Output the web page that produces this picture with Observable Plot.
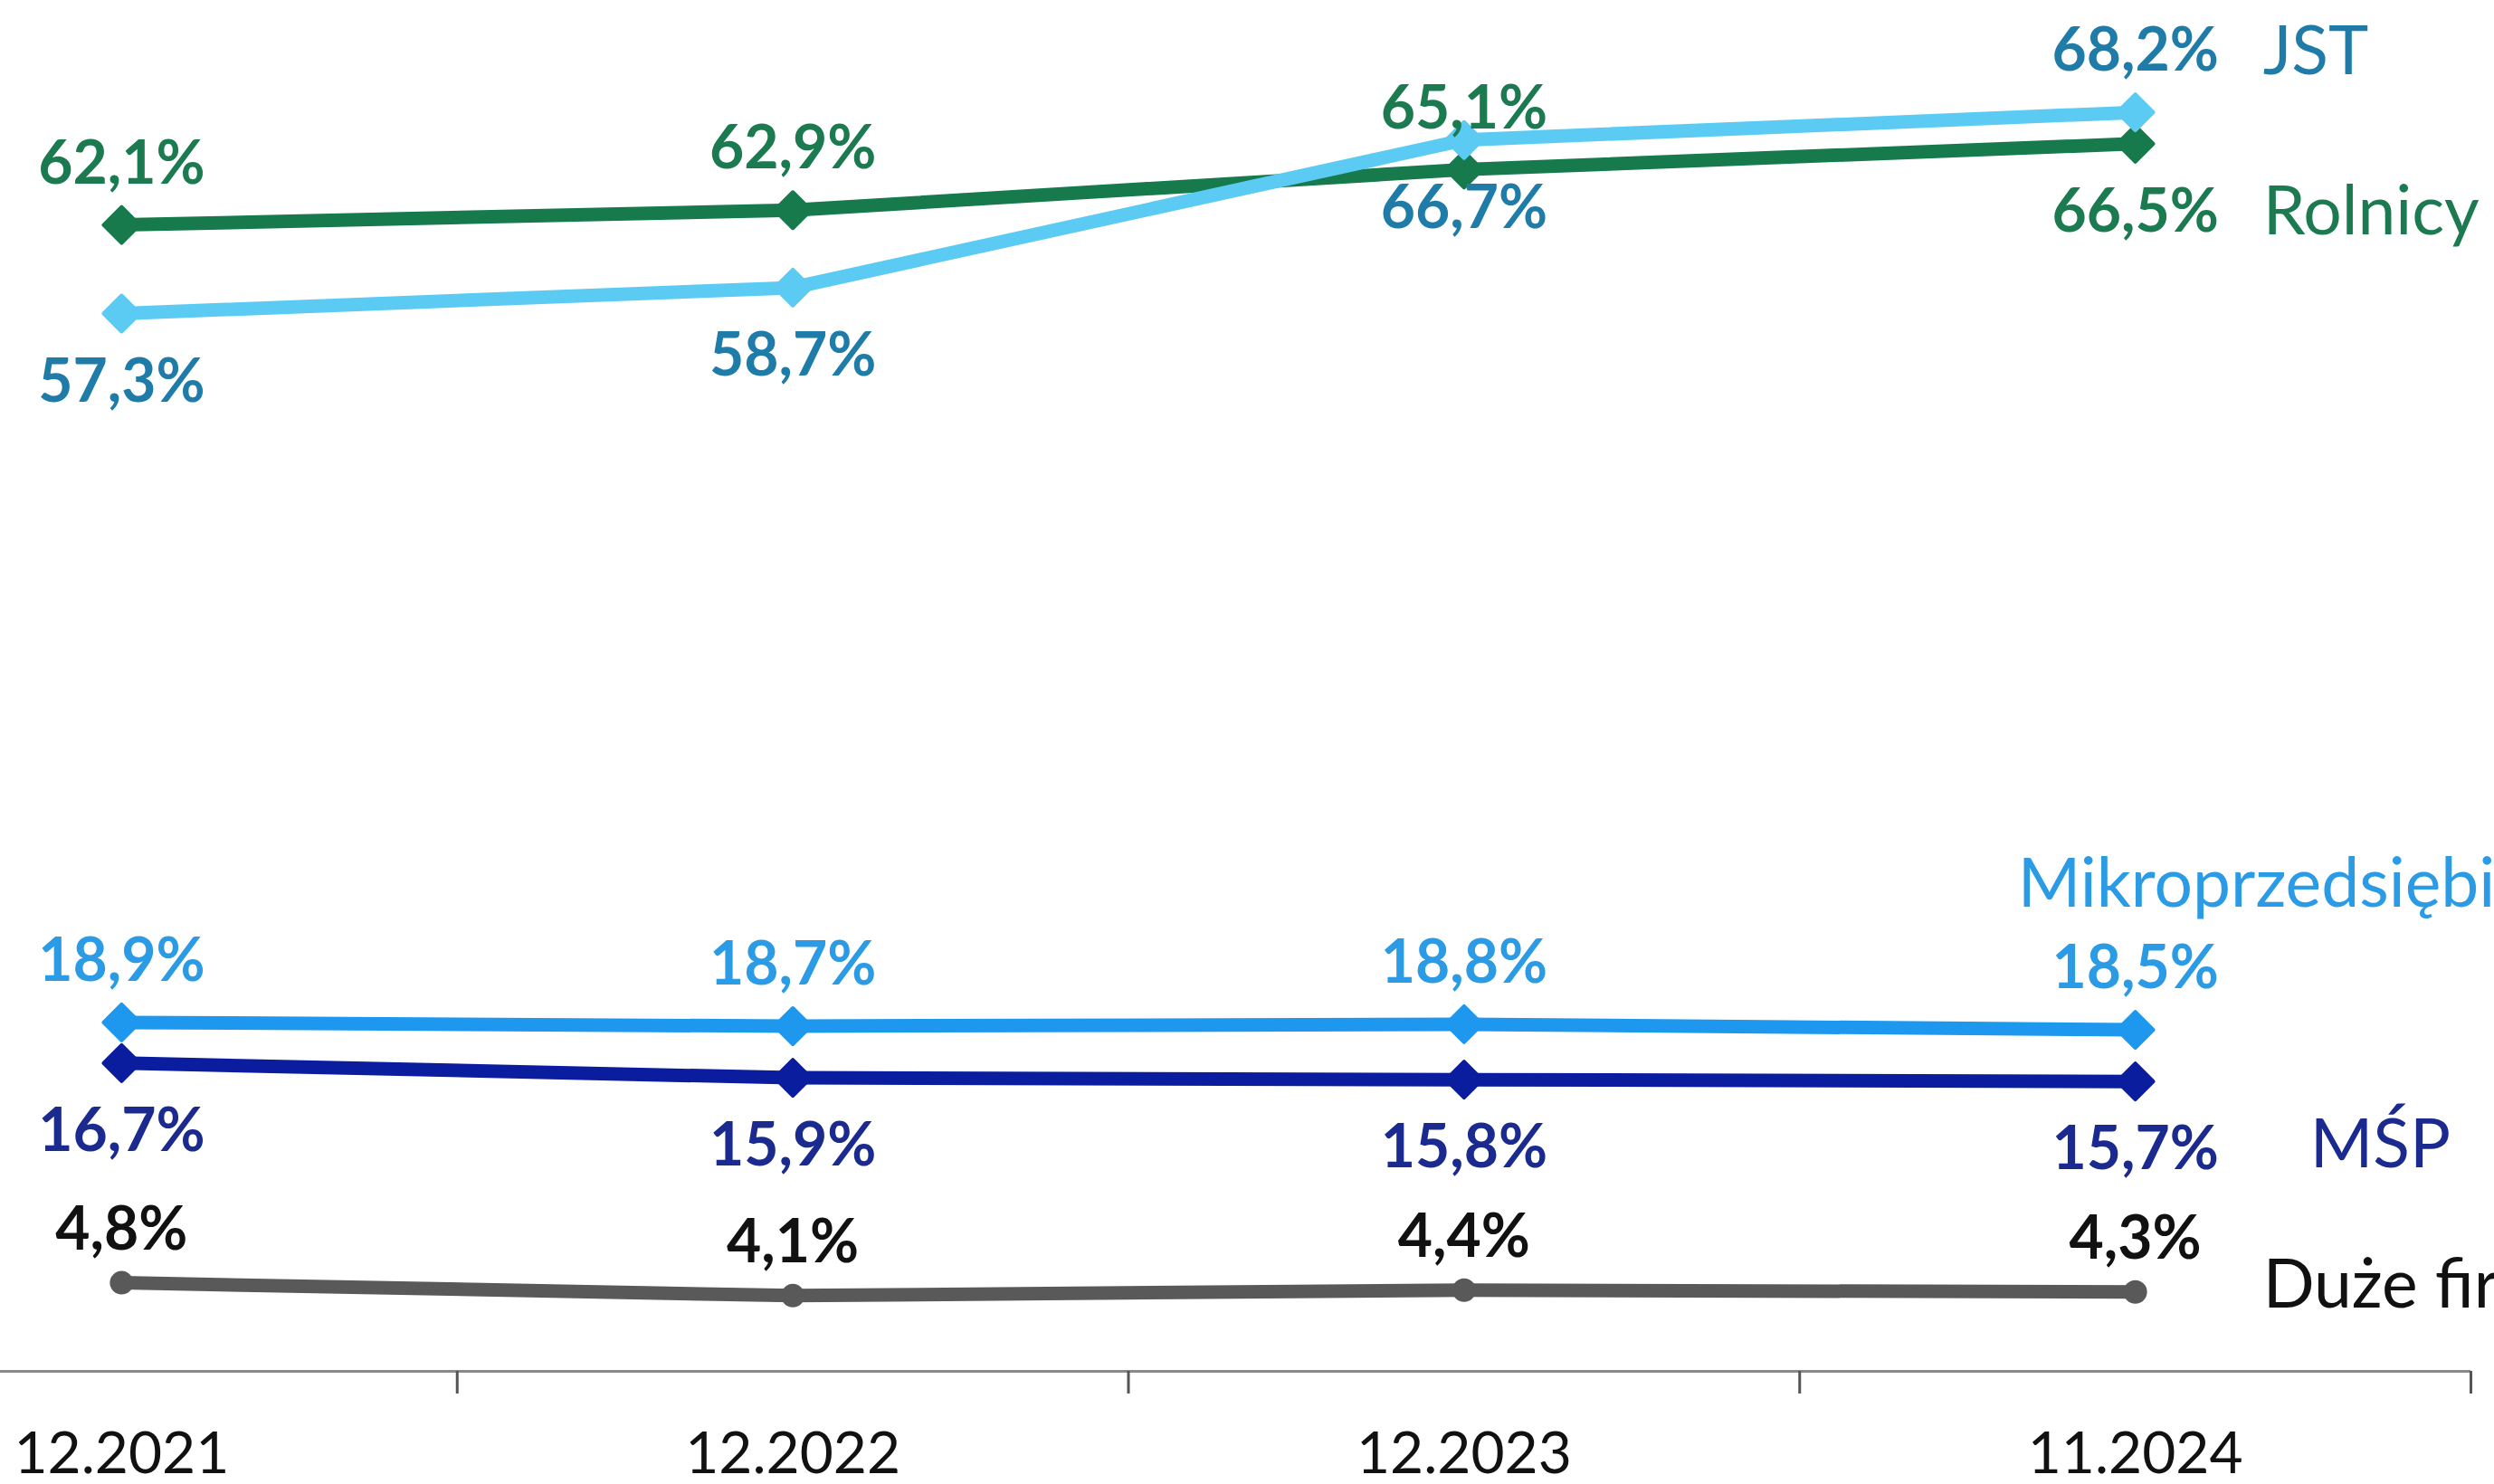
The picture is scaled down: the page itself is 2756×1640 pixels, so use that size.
<!DOCTYPE html>
<html>
<head>
<meta charset="utf-8">
<script src="https://cdn.jsdelivr.net/npm/d3@7"></script>
<script src="https://cdn.jsdelivr.net/npm/@observablehq/plot@0.6"></script>
<style>
  html, body { margin: 0; padding: 0; background: #fff; }
  #chart svg { display: block; }
</style>
</head>
<body>
<div id="chart"></div>
<script>
// ---- data ----
const categories = ["12.2021", "12.2022", "12.2023", "11.2024"];
const rolnicy = [62.1, 62.9, 65.1, 66.5];
const jst     = [57.3, 58.7, 66.7, 68.2];
const mikro   = [18.9, 18.7, 18.8, 18.5];
const msp     = [16.7, 15.9, 15.8, 15.7];
const duze    = [4.8, 4.1, 4.4, 4.3];
const seriesNames = ["Rolnicy", "JST", "Mikroprzedsiębiorstwa", "MŚP", "Duże firmy"];

// ---- styling / layout config ----
const series = [
  {name: seriesNames[0], values: rolnicy, line: "#177a4d", text: "#1b7a50", symbol: "diamond2", r: 18,
   place: ["above", "above", "above", "below"], ldx: 141, ldy: 76},
  {name: seriesNames[1], values: jst, line: "#5ccbf3", text: "#1f7ca8", symbol: "diamond2", r: 18,
   place: ["below", "below", "below", "above"], ldx: 141, ldy: -66},
  {name: seriesNames[2], values: mikro, line: "#1e97ef", text: "#2a9be4", symbol: "diamond2", r: 18,
   place: ["above", "above", "above", "above"], ldx: -130, ldy: -160},
  {name: seriesNames[3], values: msp, line: "#0a1d9e", text: "#1b2a8e", symbol: "diamond2", r: 18,
   place: ["below", "below", "below", "below"], ldx: 193, ldy: 71},
  {name: seriesNames[4], values: duze, line: "#595959", text: "#111111", symbol: "circle", r: 11,
   place: ["above", "above", "above", "above"], ldx: 141, ldy: -7, aboveDy: -58}
];

const fmt = v => v.toFixed(1).replace(".", ",") + "%";

const lineMarks = [];
const labelMarks = [];
for (const s of series) {
  const rows = s.values.map((v, i) => ({i, cat: categories[i], value: v, place: s.place[i]}));
  lineMarks.push(
    Plot.line(rows, {x: "i", y: "value", stroke: s.line, strokeWidth: 15, strokeLinejoin: "round", strokeLinecap: "round"}),
    Plot.dot(rows, {x: "i", y: "value", symbol: s.symbol, r: s.r, fill: s.line, stroke: s.line,
      strokeWidth: 4, strokeLinejoin: "round"})
  );
  labelMarks.push(
    Plot.text(rows.filter(d => d.place === "above"), {
      x: "i", y: "value", text: d => fmt(d.value), dy: s.aboveDy ?? -67,
      fill: s.text, fontWeight: "bold", fontSize: 66, textAnchor: "middle", lineAnchor: "middle"
    }),
    Plot.text(rows.filter(d => d.place === "below"), {
      x: "i", y: "value", text: d => fmt(d.value), dy: 76,
      fill: s.text, fontWeight: "bold", fontSize: 66, textAnchor: "middle", lineAnchor: "middle"
    }),
    Plot.text([rows[rows.length - 1]], {
      x: "i", y: "value", text: () => s.name, dx: s.ldx, dy: s.ldy,
      fill: s.text, fontSize: 75, textAnchor: "start", lineAnchor: "middle"
    })
  );
}

const chart = Plot.plot({
  width: 2756,
  height: 1640,
  marginTop: 0,
  marginLeft: 0,
  marginRight: 26,
  marginBottom: 125,
  style: {fontFamily: "Lato, 'Open Sans', sans-serif", background: "#fff", overflow: "hidden"},
  x: {type: "linear", domain: [-0.5, 3.5], range: [-237, 2730], axis: null, label: null},
  y: {domain: [0, 74.26], axis: null, label: null},
  marks: [
    Plot.ruleY([0], {stroke: "#8a8a8a", strokeWidth: 3}),
    Plot.axisX([0.5, 1.5, 2.5, 3.5], {tickSize: 25, tickFormat: () => "", stroke: "#555", strokeWidth: 3, label: null}),
    Plot.axisX([0, 1, 2, 3], {tickSize: 0, tickPadding: 67, tickFormat: i => categories[i],
      fontSize: 64, fill: "#111", lineAnchor: "top", label: null}),
    ...lineMarks,
    ...labelMarks
  ]
});
document.getElementById("chart").appendChild(chart);
</script>
</body>
</html>
